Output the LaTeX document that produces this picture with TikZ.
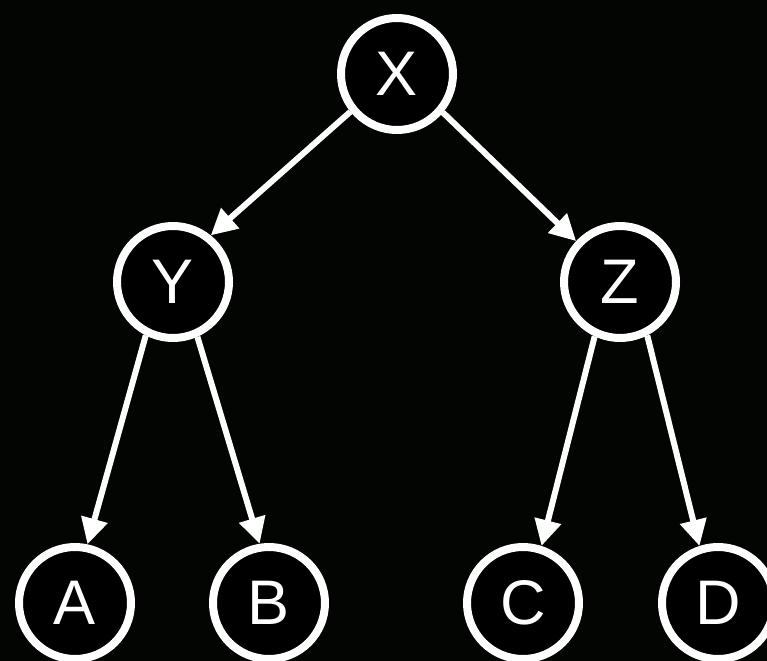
\documentclass[tikz,border=0pt]{standalone}
\usepackage{fontspec}
\setmainfont{Liberation Sans}
\usetikzlibrary{arrows.meta}
\definecolor{bgcol}{RGB}{2,5,2}
\tikzset{
  treenode/.style={circle, draw=white, line width=8bp, fill=black, text=white,
    minimum size=112bp, inner sep=0pt, font=\fontsize{63bp}{63bp}\selectfont},
  treeedge/.style={draw=white, line width=6bp,
    -{Triangle[length=26bp,width=26bp]}}
}
\begin{document}
\begin{tikzpicture}[x=1bp,y=-1bp]
\fill[bgcol] (0,0) rectangle (767,661);
\useasboundingbox (0,0) rectangle (767,661);
\node[treenode] (X) at (397,74) {X};
\node[treenode] (Y) at (173,282) {Y};
\node[treenode] (Z) at (620,282) {Z};
\node[treenode] (A) at (75,603) {A};
\node[treenode] (B) at (269,603) {B};
\node[treenode] (C) at (523,603) {C};
\node[treenode] (D) at (718,603) {D};
\draw[treeedge] (X.219) -- (Y.51);
\draw[treeedge] (X.320) -- (Z.137);
\draw[treeedge] (Y.243) -- (A.78);
\draw[treeedge] (Y.294) -- (B.99);
\draw[treeedge] (Z.245) -- (C.72);
\draw[treeedge] (Z.297) -- (D.108);
\end{tikzpicture}
\end{document}
